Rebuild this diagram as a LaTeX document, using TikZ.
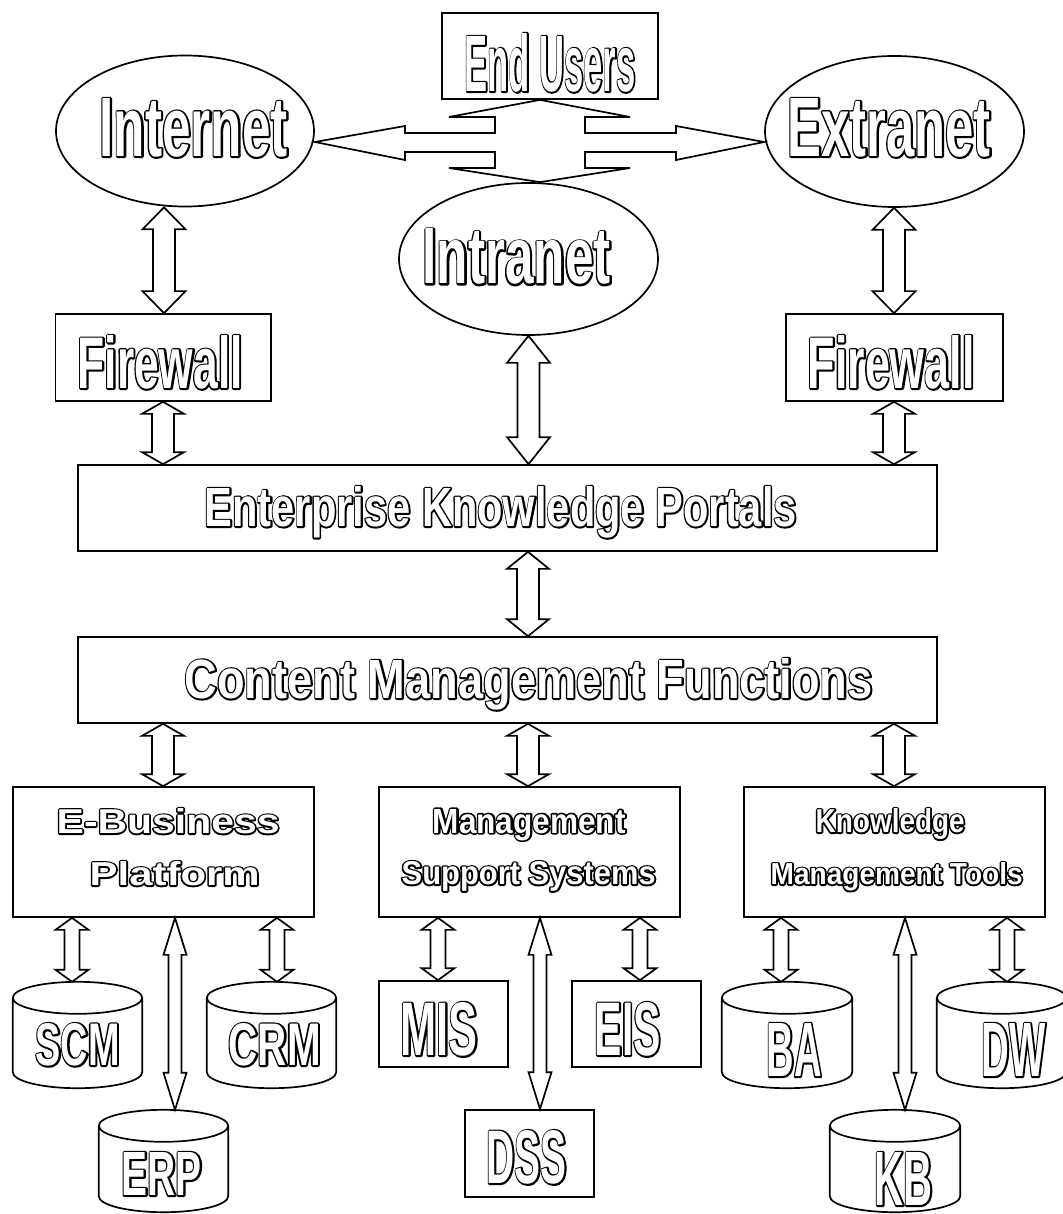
\documentclass[tikz,border=0pt]{standalone}
\usepackage{fontspec}
\setmainfont{Liberation Sans}
\newfontfamily\cnd{Liberation Sans}[FakeStretch=0.6]
\newfontfamily\mdn{Liberation Sans}[FakeStretch=0.8]
\newfontfamily\wid{Liberation Sans}[FakeStretch=1.15]
\usepackage{graphicx}
\usetikzlibrary{calc,shapes.geometric}

% outlined label: font family, width, height (px), text
% pass 1 strokes the glyph outlines in black, pass 2 fills the glyphs in white
\newcommand\ol[4]{\resizebox{\fpeval{#2-3}pt}{\fpeval{#3-2}pt}{%
  \fontsize{\fpeval{#3*1.4}}{\fpeval{#3*1.7}}\selectfont#1\bfseries
  \rlap{\special{pdf:literal direct 1 Tr 3.4 w 1 j}#4\special{pdf:literal direct 0 Tr}}%
  \textcolor{white}{#4}}}

% hollow double arrow: x, top anchor, bottom anchor, head half width, shaft half width, head length
\newcommand\dblarr[6]{%
  \path[blk] let \p3=(#1,0), \p1=(#2), \p2=(#3) in
    (\x3,\y1) -- ({\x3+#4pt},{\y1-#6pt}) -- ({\x3+#5pt},{\y1-#6pt}) --
    ({\x3+#5pt},{\y2+#6pt}) -- ({\x3+#4pt},{\y2+#6pt}) -- (\x3,\y2) --
    ({\x3-#4pt},{\y2+#6pt}) -- ({\x3-#5pt},{\y2+#6pt}) --
    ({\x3-#5pt},{\y1-#6pt}) -- ({\x3-#4pt},{\y1-#6pt}) -- cycle;}

% database cylinder drawn on a named node
\newcommand\cyl[1]{%
  \path[blk] let \p1=(#1.north west), \p2=(#1.south east), \n1={(\x2-\x1)/2} in
    (\x1,{\y1-16pt}) -- (\x1,{\y2+16pt})
    arc[start angle=180,end angle=360,x radius={\n1*1pt},y radius=16pt]
    -- (\x2,{\y1-16pt})
    arc[start angle=0,end angle=180,x radius={\n1*1pt},y radius=16pt] -- cycle
    (\x1,{\y1-16pt})
    arc[start angle=180,end angle=360,x radius={\n1*1pt},y radius=16pt];}

\tikzset{
  blk/.style={draw=black, fill=white, line width=1.7pt, line join=miter},
  box/.style={draw=black, line width=1.7pt, rectangle, inner sep=0pt},
  ell/.style={draw=black, ellipse, line width=1.7pt, inner sep=0pt},
  hid/.style={rectangle, inner sep=0pt},
  lab/.style={anchor=base west, inner sep=0pt, text=black, xshift=1.5pt, yshift=1.5pt},
}

\begin{document}
\begin{tikzpicture}[x=1pt,y=-1pt]
\fill[white] (0,0) rectangle (1062,1214);
\useasboundingbox (0,0) rectangle (1062,1214);

% ---------- shapes ----------
\node[box, minimum width=216pt, minimum height=86pt] (enduser) at (550,56) {};
\node[ell, minimum width=258pt, minimum height=151pt] (internet) at (185,131) {};
\node[ell, minimum width=259pt, minimum height=151pt] (extranet) at (894.5,131.5) {};
\node[ell, minimum width=259pt, minimum height=152pt] (intranet) at (528.5,259) {};
\node[box, minimum width=215.5pt, minimum height=87pt] (fwL) at (163.25,357.5) {};
\node[box, minimum width=217pt, minimum height=87pt] (fwR) at (894.5,357.5) {};
\node[box, minimum width=859pt, minimum height=86pt] (ekp) at (507.5,508) {};
\node[box, minimum width=859pt, minimum height=86pt] (cmf) at (507.5,680) {};
\node[box, minimum width=301pt, minimum height=130pt] (ebiz) at (163.5,852) {};
\node[box, minimum width=301pt, minimum height=130pt] (mss) at (529.5,852) {};
\node[box, minimum width=301pt, minimum height=130pt] (kmt) at (894.5,852) {};
\node[box, minimum width=129pt, minimum height=86pt] (mis) at (443.5,1024) {};
\node[box, minimum width=129pt, minimum height=86pt] (eis) at (636.5,1024) {};
\node[box, minimum width=129pt, minimum height=87pt] (dss) at (529.5,1153.5) {};
\node[hid, minimum width=129pt, minimum height=106pt] (scm) at (77.5,1035) {};
\node[hid, minimum width=129pt, minimum height=106pt] (crm) at (271.5,1035) {};
\node[hid, minimum width=129pt, minimum height=102pt] (erp) at (163.5,1161) {};
\node[hid, minimum width=130pt, minimum height=106pt] (ba) at (787,1035) {};
\node[hid, minimum width=129pt, minimum height=106pt] (dw) at (1001.5,1035) {};
\node[hid, minimum width=130pt, minimum height=102pt] (kb) at (895,1161) {};
\cyl{scm}\cyl{crm}\cyl{erp}\cyl{ba}\cyl{dw}\cyl{kb}

% ---------- split arrow between networks and end users ----------
\coordinate (hub) at (540,142);
\path[blk] (internet.east |- hub) -- (405,126) -- (405,133) -- (495,133) -- (495,117)
  -- (449,117) -- (hub |- enduser.south) -- (630,117) -- (585,117) -- (585,133)
  -- (676,133) -- (676,126) -- (extranet.west |- hub) -- (676,160) -- (676,152)
  -- (585,152) -- (585,168) -- (630,168) -- (hub |- intranet.north) -- (449,168)
  -- (495,168) -- (495,152) -- (405,152) -- (405,160) -- cycle;

% ---------- double arrows ----------
\dblarr{164}{internet.south}{fwL.north}{21.5}{11}{22}
\dblarr{894}{extranet.south}{fwR.north}{21.5}{11}{22}
\dblarr{163}{fwL.south}{ekp.north}{21}{11}{12}
\dblarr{894}{fwR.south}{ekp.north}{21}{11}{12}
\dblarr{528.5}{intranet.south}{ekp.north}{21.5}{11}{27}
\dblarr{528}{ekp.south}{cmf.north}{21}{11}{17}
\dblarr{163}{cmf.south}{ebiz.north}{21}{11}{12}
\dblarr{528}{cmf.south}{mss.north}{21}{11}{12}
\dblarr{894}{cmf.south}{kmt.north}{21}{11}{12}
\dblarr{72}{ebiz.south}{scm.north}{16.5}{7.5}{12}
\dblarr{277}{ebiz.south}{crm.north}{16.5}{7.5}{12}
\dblarr{175}{ebiz.south}{erp.north}{11.5}{6.5}{37}
\dblarr{438}{mss.south}{mis.north}{16.5}{7.5}{12}
\dblarr{540}{mss.south}{dss.north}{11.5}{6.5}{37}
\dblarr{640}{mss.south}{eis.north}{16.5}{7.5}{12}
\dblarr{781}{kmt.south}{ba.north}{16.5}{7.5}{12}
\dblarr{905}{kmt.south}{kb.north}{11.5}{6.5}{37}
\dblarr{1007}{kmt.south}{dw.north}{16.5}{7.5}{12}

% ---------- labels ----------
\node[lab] (enduser-t) at (463,93) {\ol\cnd{174}{60}{End Users}};
\node[lab] (internet-t) at (98,158) {\ol\cnd{191}{60}{Internet}};
\node[lab] (extranet-t) at (786,158) {\ol\cnd{206}{60}{Extranet}};
\node[lab] (intranet-t) at (421,285.5) {\ol\cnd{191}{57}{Intranet}};
\node[lab] (fwL-t) at (76,390) {\ol\cnd{168}{55}{Firewall}};
\node[lab] (fwR-t) at (806,390) {\ol\cnd{170}{55}{Firewall}};
\node[lab] (ekp-t) at (203,528) {\ol\mdn{595}{42}{Enterprise Knowledge Portals}};
\node[lab] (cmf-t) at (183,700) {\ol\mdn{691}{42}{Content Management Functions}};
\node[lab] (ebiz-t1) at (55,835) {\ol\wid{226}{27}{E-Business}};
\node[lab] (ebiz-t2) at (88,887) {\ol\wid{173}{26}{Platform}};
\node[lab] (mss-t1) at (431,834.5) {\ol\mdn{196}{26}{Management}};
\node[lab] (mss-t2) at (400,886) {\ol\mdn{257}{25}{Support Systems}};
\node[lab] (kmt-t1) at (814,834) {\ol\mdn{152}{26}{Knowledge}};
\node[lab] (kmt-t2) at (769,886) {\ol\mdn{255}{24}{Management Tools}};
\node[lab] (scm-t) at (34,1067) {\ol\cnd{87}{44}{SCM}};
\node[lab] (crm-t) at (227,1067) {\ol\cnd{95}{44}{CRM}};
\node[lab] (erp-t) at (120,1197) {\ol\cnd{83}{45}{ERP}};
\node[lab] (mis-t) at (399,1057) {\ol\cnd{80}{55}{MIS}};
\node[lab] (eis-t) at (593,1057) {\ol\cnd{69}{55}{EIS}};
\node[lab] (dss-t) at (485,1185) {\ol\cnd{83}{55}{DSS}};
\node[lab] (ba-t) at (765,1078) {\ol\cnd{58}{55}{BA}};
\node[lab] (dw-t) at (980,1078) {\ol\cnd{67}{55}{DW}};
\node[lab] (kb-t) at (873,1207) {\ol\cnd{61}{55}{KB}};
\end{tikzpicture}
\end{document}
